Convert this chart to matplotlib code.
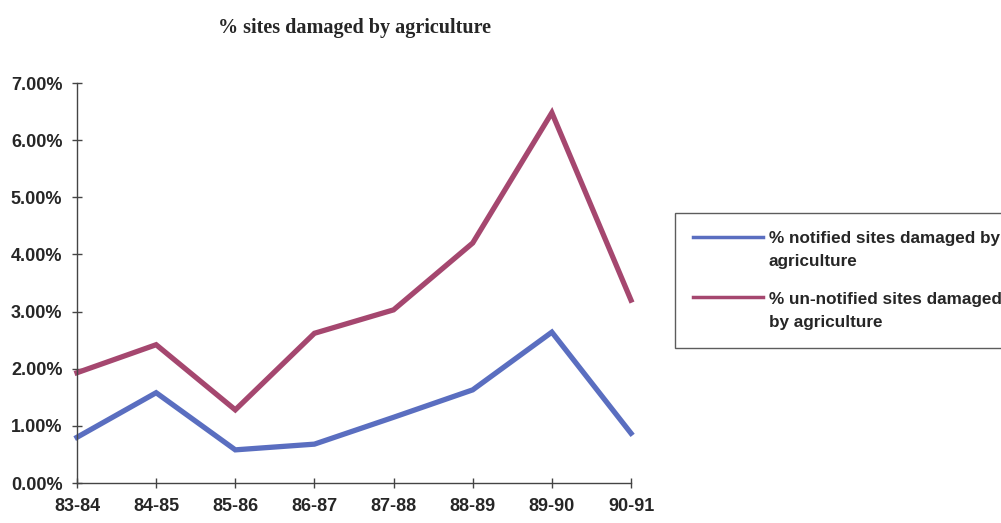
import matplotlib
matplotlib.use("Agg")
import matplotlib.pyplot as plt
import matplotlib.transforms as mtransforms
from matplotlib.legend_handler import HandlerLine2D
from matplotlib.ticker import PercentFormatter

years = ["83-84", "84-85", "85-86", "86-87", "87-88", "88-89", "89-90", "90-91"]
notified = [0.80, 1.58, 0.58, 0.68, 1.15, 1.63, 2.64, 0.87]
unnotified = [1.93, 2.42, 1.28, 2.62, 3.03, 4.20, 6.48, 3.20]

labels = ["% notified sites damaged by\nagriculture",
          "% un-notified sites damaged\nby agriculture"]
BLUE = "#5a6ec0"
PURPLE = "#a5476f"
INK = "#262626"


class FirstLineHandler(HandlerLine2D):
    # lift the legend line up to the first row of a two-line label
    def create_artists(self, legend, orig_handle, xdescent, ydescent,
                       width, height, fontsize, trans):
        arts = super().create_artists(legend, orig_handle, xdescent, ydescent,
                                      width, height, fontsize, trans)
        shift = mtransforms.Affine2D().translate(0, fontsize * 0.78)
        for a in arts:
            a.set_transform(shift + trans)
        return arts


fig = plt.figure(figsize=(10.01, 5.23), dpi=100)
ax = fig.add_axes([77 / 1001, 40 / 523, (631 - 77) / 1001, 400 / 523])

x = range(len(years))
l1, = ax.plot(x, notified, color=BLUE, lw=3.8, solid_joinstyle="miter",
              clip_on=False, label=labels[0])
l2, = ax.plot(x, unnotified, color=PURPLE, lw=3.8, solid_joinstyle="miter",
              clip_on=False, label=labels[1])

ax.set_xlim(0, len(years) - 1)
ax.set_ylim(0, 7)
ax.set_xticks(list(x))
ax.set_xticklabels(years)
ax.set_yticks(range(0, 8))
ax.yaxis.set_major_formatter(PercentFormatter(xmax=100, decimals=2))

for side in ("top", "right"):
    ax.spines[side].set_visible(False)
for side in ("left", "bottom"):
    ax.spines[side].set_color("#444444")
    ax.spines[side].set_linewidth(1.0)
ax.tick_params(direction="inout", length=7, width=1.0, color="#444444",
               labelcolor=INK)
ax.tick_params(axis="y", pad=7)
ax.tick_params(axis="x", pad=7)
for t in ax.get_xticklabels() + ax.get_yticklabels():
    t.set_fontfamily("Liberation Sans")
    t.set_fontweight("bold")
    t.set_fontsize(13)

fig.text(355 / 1001, 1 - 28 / 523, "% sites damaged by agriculture",
         ha="center", va="center", fontsize=14.5, fontweight="bold",
         family="Liberation Serif", color=INK)

leg = fig.legend(handles=[l1, l2], loc="upper left",
                 bbox_to_anchor=(675 / 1001, 1 - 213 / 523),
                 bbox_transform=fig.transFigure, borderaxespad=0,
                 frameon=True, fancybox=False, edgecolor="#333333",
                 prop={"family": "Liberation Sans", "weight": "bold", "size": 12.3},
                 handlelength=4.1, handletextpad=0.35, borderpad=1.05,
                 labelspacing=1.3,
                 handler_map={l1: FirstLineHandler(), l2: FirstLineHandler()})
leg.get_frame().set_linewidth(1.0)
for t in leg.get_texts():
    t.set_color(INK)
    t.set_linespacing(1.7)
for h in leg.get_lines():
    h.set_linewidth(2.5)

fig.savefig("out.png", dpi=100)
